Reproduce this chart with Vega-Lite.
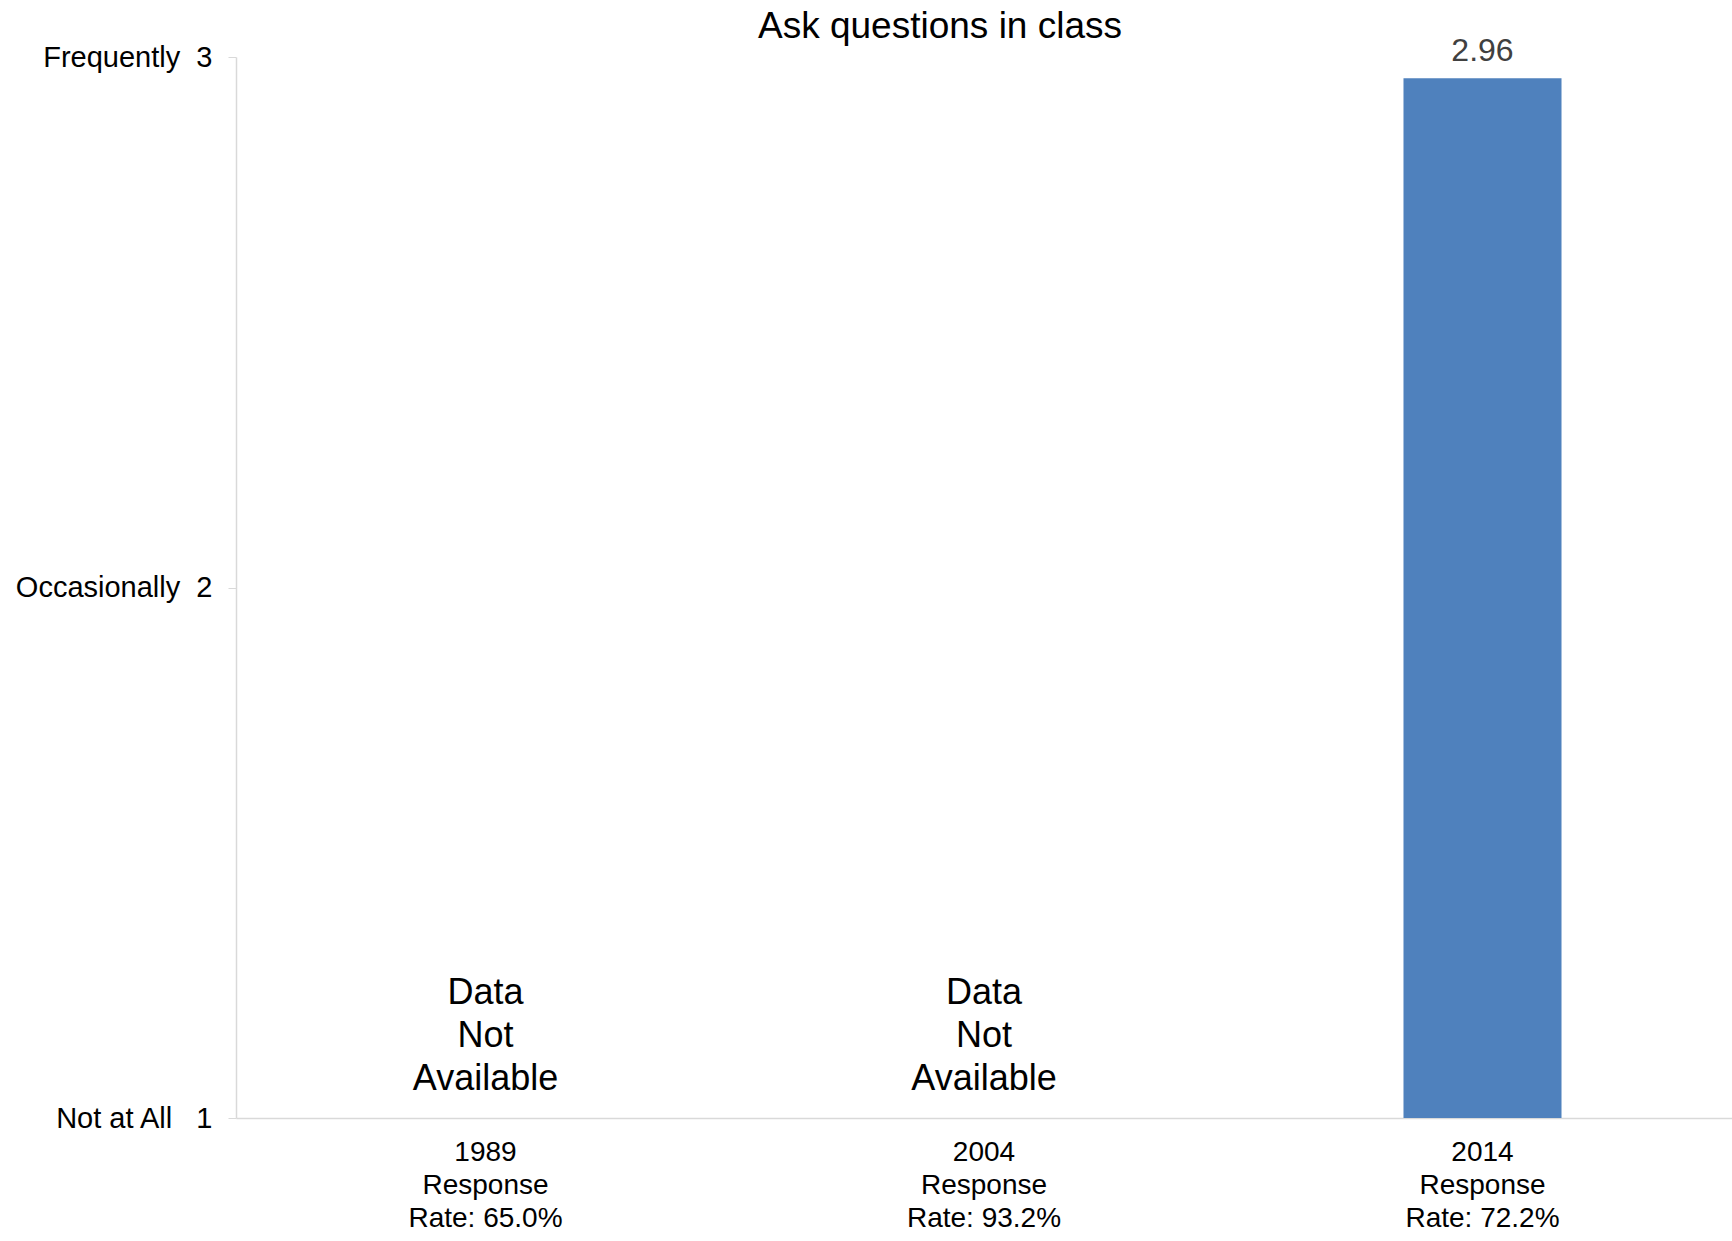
{
  "$schema": "https://vega.github.io/schema/vega-lite/v6.json",
  "autosize": {"type": "none"},
  "padding": {"left": 236, "top": 57, "right": 0, "bottom": 123},
  "width": 1496,
  "height": 1061,
  "background": "white",
  "config": {"view": {"stroke": null}, "font": "Liberation Sans"},
  "title": {"text": "Ask questions in class", "fontSize": 37, "font": "Liberation Sans", "fontWeight": "normal", "color": "black", "anchor": "middle", "frame": "group", "dx": -44, "dy": 40, "offset": 0, "baseline": "alphabetic"},
  "data": {"values": [
    {"group": "1989\nResponse\nRate: 65.0%", "value": null, "note": "Data Not Available"},
    {"group": "2004\nResponse\nRate: 93.2%", "value": null, "note": "Data Not Available"},
    {"group": "2014\nResponse\nRate: 72.2%", "value": 2.96, "note": null}
  ]},
  "encoding": {
    "x": {"field": "group", "type": "nominal", "sort": "ascending",
      "scale": {"paddingInner": 0.683, "paddingOuter": 0.342},
      "axis": {"title": null, "labelFontSize": 28, "labelFont": "Liberation Sans", "labelColor": "black", "labelAngle": 0, "ticks": false, "domainColor": "#d9d9d9", "domainWidth": 1.5, "labelPadding": 20, "labelLineHeight": 33, "labelBaseline": "top", "labelExpr": "split(datum.label, '\\n')", "labelOverlap": false, "labelBound": false, "labelLimit": 400}}
  },
  "layer": [
    {
      "mark": {"type": "bar", "color": "#4F81BD"},
      "transform": [{"filter": "datum.value != null"}],
      "encoding": {
        "y": {"field": "value", "type": "quantitative",
          "scale": {"domain": [1, 3], "zero": false, "nice": false},
          "axis": {"title": null, "values": [1, 2, 3], "grid": false, "labelFontSize": 29, "labelFont": "Liberation Sans", "labelColor": "black", "labelLimit": 400, "domainColor": "#d9d9d9", "domainWidth": 1.5, "tickColor": "#d9d9d9", "tickSize": 8, "labelPadding": 16,
            "labelExpr": "datum.value == 3 ? 'Frequently\u00a0\u00a0' + '3' : datum.value == 2 ? 'Occasionally\u00a0\u00a0' + '2' : 'Not at All\u00a0\u00a0\u00a0' + '1'"}},
        "y2": {"datum": 1}
      }
    },
    {
      "mark": {"type": "text", "fontSize": 32, "color": "#404040", "baseline": "alphabetic", "dy": -17},
      "transform": [{"filter": "datum.value != null"}],
      "encoding": {
        "y": {"field": "value", "type": "quantitative"},
        "text": {"field": "value", "type": "quantitative", "format": ".2f"}
      }
    },
    {
      "mark": {"type": "text", "fontSize": 36, "color": "black", "baseline": "alphabetic", "lineBreak": " ", "lineHeight": 43, "dy": -114},
      "transform": [{"filter": "datum.value == null"}],
      "encoding": {
        "y": {"datum": 1},
        "text": {"field": "note", "type": "nominal"}
      }
    }
  ]
}
